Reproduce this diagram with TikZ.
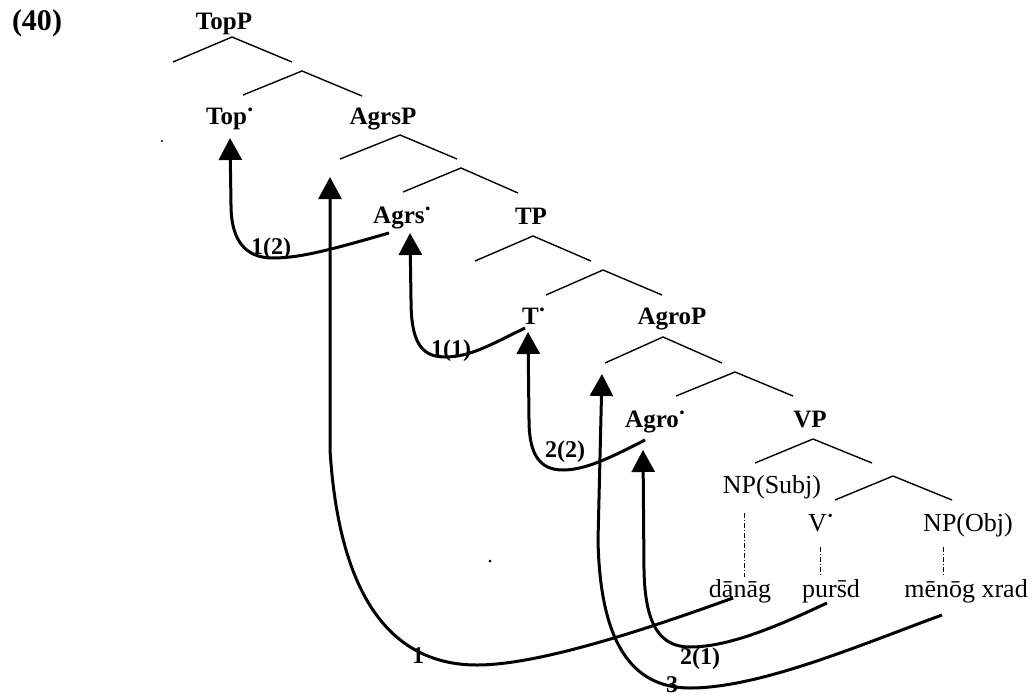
\documentclass[tikz,border=0pt]{standalone}
\usepackage{fontspec}
\setmainfont{Liberation Serif}
\usepackage{graphicx}
\usetikzlibrary{arrows.meta}
\newcommand\bdot{\kern0.8pt\raisebox{0.40em}{\fontsize{14}{14}\selectfont\textbullet}}
\tikzset{
  lab/.style={font=\fontsize{25}{30}\selectfont\bfseries, inner sep=0pt},
  low/.style={font=\fontsize{26}{30}\selectfont, inner sep=0pt},
  num/.style={font=\fontsize{24}{28}\selectfont\bfseries, inner sep=0pt, anchor=base},
  br/.style={line width=1.4pt},
  dsh/.style={line width=0.8pt, dash pattern=on 5pt off 2pt on 1pt off 2pt},
  mv/.style={line width=3pt, -{Triangle[width=23pt,length=22pt]}},
}
\begin{document}
\begin{tikzpicture}[x=1pt,y=-1pt]
\useasboundingbox (0,0) rectangle (1035,696);

% labels
\node[lab, anchor=base, font=\fontsize{30}{34}\selectfont\bfseries] (ex) at (37,30) {(40)};
\node[lab, anchor=base] (topP) at (224,29) {TopP};
\node[lab, anchor=base west] (topb) at (206,124) {Top\bdot};
\node[lab, anchor=base] (agrsP) at (383,124) {AgrsP};
\node[lab, anchor=base west] (agrsb) at (373,223) {Agrs\bdot};
\node[lab, anchor=base] (tP) at (531,224) {TP};
\node[lab, anchor=base west] (tb) at (522,324) {T\bdot};
\node[lab, anchor=base] (agroP) at (672,324) {AgroP};
\node[lab, anchor=base west] (agrob) at (625,427) {Agro\bdot};
\node[lab, anchor=base] (vP) at (810,427) {VP};
\node[low, anchor=base] (npS) at (772,493) {NP(Subj)};
\node[low, anchor=base west] (vb) at (808,531) {V\bdot};
\node[low, anchor=base] (npO) at (968,531) {NP(Obj)};
\node[low, anchor=base] (w1) at (740,597) {dānāg};
\node[low, anchor=base] (w2) at (831,597) {purs̄d};
\node[low, anchor=base] (w3) at (966,597) {mēnōg xrad};

% tree branches
\coordinate (a1) at (232,37);  \coordinate (l1) at (173,62);  \coordinate (r1) at (292,62);
\coordinate (a2) at (302,71);  \coordinate (l2) at (243,95);  \coordinate (r2) at (362,96);
\coordinate (a3) at (400,135); \coordinate (l3) at (340,159); \coordinate (r3) at (457,159);
\coordinate (a4) at (461,168); \coordinate (l4) at (403,192); \coordinate (r4) at (518,193);
\coordinate (a5) at (533,236); \coordinate (l5) at (475,261); \coordinate (r5) at (591,261);
\coordinate (a6) at (603,270); \coordinate (l6) at (546,295); \coordinate (r6) at (662,295);
\coordinate (a7) at (663,337); \coordinate (l7) at (605,363); \coordinate (r7) at (722,363);
\coordinate (a8) at (735,372); \coordinate (l8) at (676,396); \coordinate (r8) at (793,396);
\coordinate (a9) at (813,439); \coordinate (l9) at (755,463); \coordinate (r9) at (872,463);
\coordinate (a10) at (893,476); \coordinate (l10) at (835,500); \coordinate (r10) at (952,500);
\foreach \i in {1,...,10} { \draw[br] (l\i) -- (a\i) -- (r\i); }

% dashed lines
\coordinate (d1t) at (744,513); \coordinate (d1b) at (744,577);
\coordinate (d2t) at (820,547); \coordinate (d2b) at (820,577);
\coordinate (d3t) at (943,547); \coordinate (d3b) at (943,577);
\draw[dsh] (d1t) -- (d1b);
\draw[dsh] (d2t) -- (d2b);
\draw[dsh] (d3t) -- (d3b);

% movement arrows
\coordinate (sA) at (389,233); \coordinate (tA) at (230,138);
\draw[mv] (sA) .. controls (330,250) and (300,258) .. (273,258)
  .. controls (245,258) and (231,240) .. (231,205) -- (tA);
\coordinate (sB) at (525,328); \coordinate (tB) at (410,233);
\draw[mv] (sB) .. controls (490,345) and (470,357) .. (445,357)
  .. controls (420,357) and (411,340) .. (411,300) -- (tB);
\coordinate (sC) at (645,440); \coordinate (tC) at (528,332);
\draw[mv] (sC) .. controls (610,458) and (585,470) .. (563,470)
  .. controls (540,470) and (529,455) .. (529,420) -- (tC);
\coordinate (sD) at (827,603); \coordinate (tD) at (643,450);
\draw[mv] (sD) .. controls (780,625) and (730,647) .. (690,647)
  .. controls (660,647) and (645,625) .. (644,570) -- (tD);
\coordinate (sE) at (733,598); \coordinate (tE) at (330,177);
\draw[mv] (sE) .. controls (650,628) and (540,665) .. (477,665)
  .. controls (400,665) and (340,610) .. (330,450) -- (tE);
\coordinate (sF) at (942,615); \coordinate (tF) at (602,374);
\draw[mv] (sF) .. controls (860,645) and (760,688) .. (690,688)
  .. controls (630,688) and (600,640) .. (598,540) -- (tF);

% step labels
\node[num] (n12) at (271,254) {1(2)};
\node[num] (n11) at (451,356) {1(1)};
\node[num] (n22) at (565,457) {2(2)};
\node[num] (n21) at (700,664) {2(1)};
\node[num] (n1) at (418,663) {1};
\node[num] (n3) at (672,692) {3};

% specks
\fill (162,141) circle (1.2);
\fill (490,561) circle (1.5);
\end{tikzpicture}
\end{document}
